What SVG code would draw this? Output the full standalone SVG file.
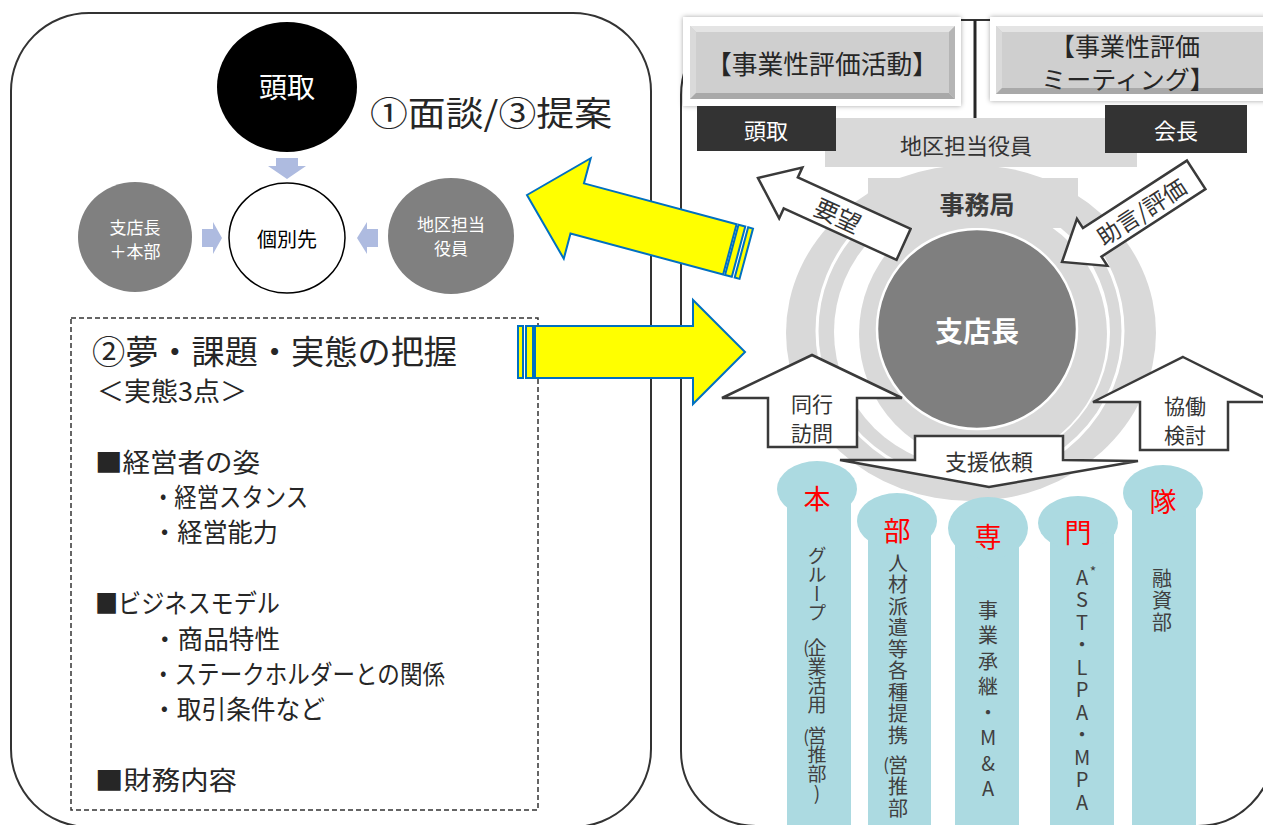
<svg xmlns="http://www.w3.org/2000/svg" width="1263" height="825" viewBox="0 0 1263 825">
<defs>
  <style>
    text { font-family: "Noto Sans CJK JP", "Noto Sans", sans-serif; }
    .panel { fill: #ffffff; stroke: #333333; stroke-width: 2; }
    .dk { fill: #262626; }
    .wt { fill: #ffffff; }
    .c { text-anchor: middle; dominant-baseline: central; }
    .blk { fill: #ffffff; stroke: #3a3a3a; stroke-width: 2.5; stroke-linejoin: miter; }
    .yel { fill: #ffff00; stroke: #0070c0; stroke-width: 2; }
    .pil { fill: #acdae1; }
    .red { fill: #ff0000; font-size: 27px; }
    .vt { writing-mode: vertical-rl; text-orientation: upright; font-size: 20px; fill: #404040; }
    .pr { font-size: 17px; fill: #404040; text-anchor: middle; dominant-baseline: central; }
    .sm { fill: #aebbe0; }
    .gc { fill: #808080; }
  </style>
  <filter id="sh" x="-10%" y="-20%" width="120%" height="140%">
    <feDropShadow dx="0" dy="0" stdDeviation="2.5" flood-color="#000000" flood-opacity="0.35"/>
  </filter>
  <g id="yarrow">
    <polygon class="yel" points="0,0 52,-52 52,-26 210,-26 210,26 52,26 52,52"/>
    <rect class="yel" x="212" y="-26" width="7" height="52"/>
    <rect class="yel" x="222" y="-26" width="5" height="52"/>
  </g>
</defs>

<rect width="1263" height="825" fill="#ffffff"/>

<!-- panels -->
<g id="left-panel">
  <rect class="panel" x="11" y="13" width="640" height="814" rx="78" ry="78"/>
</g>
<g id="right-panel">
  <rect class="panel" x="681" y="20" width="592" height="806" rx="75" ry="75"/>
  <line x1="975" y1="20" x2="975" y2="180" stroke="#262626" stroke-width="3"/>
</g>

<!-- Left side nodes -->
<g id="node-todori">
  <ellipse cx="287" cy="87" rx="70" ry="65" fill="#000000"/>
  <text class="c wt" x="287" y="86" font-size="28">頭取</text>
</g>
<g id="node-kobetsu">
  <ellipse cx="287" cy="238" rx="58" ry="55" fill="#ffffff" stroke="#000000" stroke-width="1.5"/>
  <text class="c" x="287" y="238" font-size="20" fill="#000000">個別先</text>
</g>
<g id="node-shitencho-honbu">
  <ellipse class="gc" cx="135" cy="237" rx="57" ry="55"/>
  <text class="c wt" x="135" y="226" font-size="17">支店長</text>
  <text class="c wt" x="135" y="250" font-size="17">＋本部</text>
</g>
<g id="node-chiku">
  <ellipse class="gc" cx="451" cy="236" rx="63" ry="58"/>
  <text class="c wt" x="451" y="223" font-size="17">地区担当</text>
  <text class="c wt" x="451" y="247" font-size="17">役員</text>
</g>
<g id="small-arrows">
  <polygon class="sm" points="276,158 298,158 298,166 306,166 287,179 268,166 276,166"/>
  <polygon class="sm" points="202,229 213,229 213,222 222,238 213,254 213,247 202,247"/>
  <polygon class="sm" points="378,229 367,229 367,222 357,238 367,254 367,247 378,247"/>
</g>
<text class="dk" x="370" y="111" font-size="34" dominant-baseline="central" textLength="242" lengthAdjust="spacingAndGlyphs">①面談/③提案</text>

<g id="node-haaku">
  <rect x="71" y="318" width="467" height="492" fill="none" stroke="#333333" stroke-width="1.5" stroke-dasharray="5,3"/>
  <text class="dk" x="92" y="350" font-size="33" dominant-baseline="central" textLength="365" lengthAdjust="spacingAndGlyphs">②夢・課題・実態の把握</text>
  <text class="dk" x="97" y="389" font-size="26" dominant-baseline="central" textLength="150" lengthAdjust="spacingAndGlyphs">＜実態3点＞</text>
  <text class="dk" x="95" y="460" font-size="26" dominant-baseline="central" textLength="165" lengthAdjust="spacingAndGlyphs">■経営者の姿</text>
  <text class="dk" x="152" y="495" font-size="26" dominant-baseline="central" textLength="156" lengthAdjust="spacingAndGlyphs">・経営スタンス</text>
  <text class="dk" x="152" y="530" font-size="26" dominant-baseline="central" textLength="126" lengthAdjust="spacingAndGlyphs">・経営能力</text>
  <text class="dk" x="95" y="601" font-size="26" dominant-baseline="central" textLength="185" lengthAdjust="spacingAndGlyphs">■ビジネスモデル</text>
  <text class="dk" x="152" y="637" font-size="26" dominant-baseline="central" textLength="128" lengthAdjust="spacingAndGlyphs">・商品特性</text>
  <text class="dk" x="152" y="672" font-size="26" dominant-baseline="central" textLength="293" lengthAdjust="spacingAndGlyphs">・ステークホルダーとの関係</text>
  <text class="dk" x="152" y="707" font-size="26" dominant-baseline="central" textLength="173" lengthAdjust="spacingAndGlyphs">・取引条件など</text>
  <text class="dk" x="95" y="778" font-size="26" dominant-baseline="central" textLength="142" lengthAdjust="spacingAndGlyphs">■財務内容</text>
</g>

<!-- Right side: rings -->
<g id="node-rings">
  <ellipse cx="971" cy="333" rx="185" ry="168" fill="#d9d9d9"/>
  <ellipse cx="970" cy="331" rx="153" ry="150" fill="none" stroke="#ffffff" stroke-width="3"/>
  <ellipse cx="972" cy="332" rx="138" ry="136" fill="#ffffff"/>
  <ellipse cx="983" cy="334" rx="124" ry="128" fill="#d9d9d9"/>
</g>

<!-- header area -->
<g id="node-chiku-band">
  <rect x="825" y="118" width="312" height="49" fill="#d9d9d9"/>
  <text class="c" x="966" y="144" font-size="22" fill="#333333">地区担当役員</text>
</g>
<g id="node-shitencho">
  <circle cx="977" cy="329" r="100" fill="#7f7f7f" stroke="#ffffff" stroke-width="2.5"/>
  <text class="c wt" x="977" y="330" font-size="28" font-weight="bold">支店長</text>
</g>
<g id="node-jimukyoku">
  <rect x="868" y="178" width="210" height="50" fill="#d9d9d9"/>
  <text class="c" x="977" y="203" font-size="25" font-weight="bold" fill="#3a3a3a">事務局</text>
</g>

<g id="node-header1">
  <rect x="683" y="17" width="278" height="89" fill="#ffffff" filter="url(#sh)"/>
  <rect x="690" y="26" width="265" height="73" fill="#cfcfcf"/>
  <polygon points="690,26 955,26 949,32 696,32" fill="#e4e4e4"/>
  <polygon points="690,26 696,32 696,93 690,99" fill="#dadada"/>
  <polygon points="690,99 696,93 949,93 955,99" fill="#a9a9a9"/>
  <polygon points="955,26 955,99 949,93 949,32" fill="#b5b5b5"/>
  <text class="c dk" x="822" y="62" font-size="26" textLength="232" lengthAdjust="spacingAndGlyphs">【事業性評価活動】</text>
</g>
<g id="node-header2">
  <rect x="990" y="17" width="285" height="84" fill="#ffffff" filter="url(#sh)"/>
  <rect x="996" y="26" width="267" height="68" fill="#cfcfcf"/>
  <polygon points="996,26 1263,26 1263,32 1002,32" fill="#e4e4e4"/>
  <polygon points="996,26 1002,32 1002,88 996,94" fill="#dadada"/>
  <polygon points="996,94 1002,88 1263,88 1263,94" fill="#a9a9a9"/>
  <text class="c dk" x="1125" y="45" font-size="25">【事業性評価</text>
  <text class="c dk" x="1128" y="78" font-size="25">ミーティング】</text>
</g>
<g id="node-todori-box">
  <rect x="697" y="106" width="139" height="45" fill="#333333"/>
  <text class="c wt" x="766" y="129" font-size="22">頭取</text>
</g>
<g id="node-kaicho-box">
  <rect x="1105" y="105" width="142" height="48" fill="#333333"/>
  <text class="c wt" x="1176" y="129" font-size="22">会長</text>
</g>

<!-- white block arrows and yellow arrows -->
<g id="connectors">
  <g transform="translate(758,178) rotate(24.5)">
    <polygon class="blk" points="0,0 36,-28 36,-17 160,-17 160,17 36,17 36,28"/>
    <text class="c" x="88" y="0" font-size="24" fill="#333333">要望</text>
  </g>
  <g transform="translate(1062,262) rotate(-33)">
    <polygon class="blk" points="0,0 36,-28 36,-17 160,-17 160,17 36,17 36,28"/>
    <text class="c" x="94" y="0" font-size="23" fill="#333333">助言/評価</text>
  </g>
  <polygon class="blk" points="812,355 902,398 857,398 857,447 768,447 768,398 722,398"/>
  <text class="c" x="812" y="403" font-size="21" fill="#333333">同行</text>
  <text class="c" x="812" y="432" font-size="21" fill="#333333">訪問</text>
  <polygon class="blk" points="1183,357 1273,402 1228,402 1228,450 1140,450 1140,402 1093,402"/>
  <text class="c" x="1185" y="405" font-size="21" fill="#333333">協働</text>
  <text class="c" x="1185" y="434" font-size="21" fill="#333333">検討</text>
  <polygon class="blk" points="915,436 1063,436 1063,460 1138,461 989,487 840,460 915,460"/>
  <text class="c" x="989" y="460" font-size="22" fill="#333333">支援依頼</text>

  <use href="#yarrow" transform="translate(527,195) rotate(15)"/>
  <use href="#yarrow" transform="translate(745,352) rotate(180)"/>
</g>

<!-- pillars -->
<g id="node-pillar-hon">
  <rect class="pil" x="787" y="489" width="64" height="340"/>
  <ellipse class="pil" cx="817" cy="489" rx="40" ry="28"/>
  <text class="c red" x="817" y="497">本</text>
  <text class="vt" x="817" y="546" font-size="19" style="font-size:19px">グループ</text>
  <text class="pr" x="806" y="646">(</text>
  <text class="vt" x="817" y="638" style="font-size:19px">企業活用</text>
  <text class="pr" x="806" y="735">(</text>
  <text class="vt" x="817" y="726" style="font-size:19px">営推部)</text>
</g>
<g id="node-pillar-bu">
  <rect class="pil" x="868" y="521" width="63" height="310"/>
  <ellipse class="pil" cx="897" cy="521" rx="40" ry="28"/>
  <text class="c red" x="897" y="529">部</text>
  <text class="vt" x="898" y="553" letter-spacing="1.5">人材派遣等各種提携</text>
  <text class="pr" x="886" y="763">(</text>
  <text class="vt" x="898" y="755" letter-spacing="1.5">営推部</text>
</g>
<g id="node-pillar-sen">
  <rect class="pil" x="955" y="528" width="64" height="300"/>
  <ellipse class="pil" cx="988" cy="528" rx="40" ry="31"/>
  <text class="c red" x="988" y="535">専</text>
  <text class="vt" x="988" y="600" letter-spacing="5.5">事業承継・M&amp;A</text>
</g>
<g id="node-pillar-mon">
  <rect class="pil" x="1050" y="523" width="64" height="305"/>
  <ellipse class="pil" cx="1078" cy="523" rx="40" ry="27"/>
  <text class="c red" x="1078" y="531">門</text>
  <text class="vt" x="1082" y="567" letter-spacing="2.5">AST・LPA・MPA</text>
  <text x="1093" y="577" font-size="14" fill="#404040" text-anchor="middle">*</text>
</g>
<g id="node-pillar-tai">
  <rect class="pil" x="1132" y="493" width="64" height="335"/>
  <ellipse class="pil" cx="1163" cy="493" rx="40" ry="28"/>
  <text class="c red" x="1163" y="500">隊</text>
  <text class="vt" x="1162" y="568" letter-spacing="2">融資部</text>
</g>
</svg>
